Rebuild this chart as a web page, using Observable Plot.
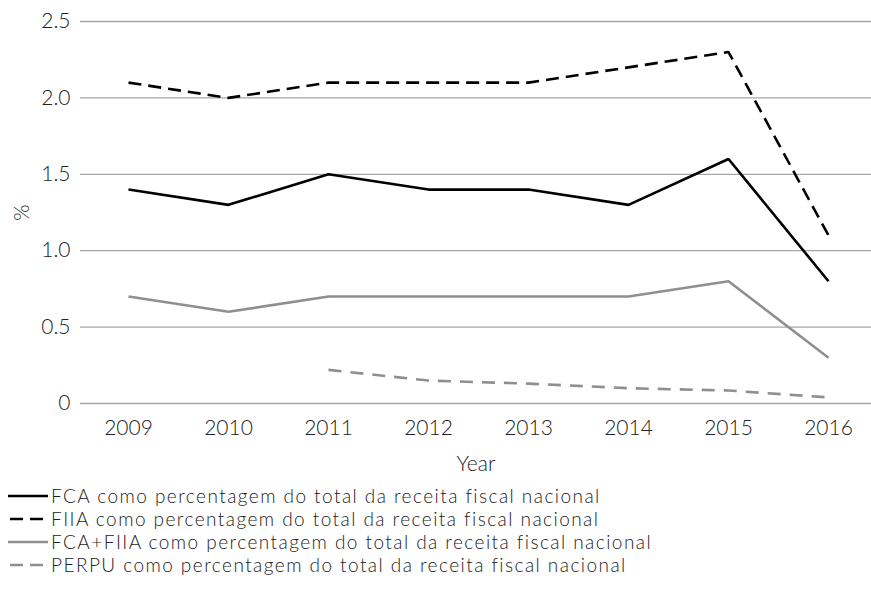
<!DOCTYPE html>
<html>
<head>
<meta charset="utf-8">
<script src="https://cdn.jsdelivr.net/npm/d3@7"></script>
<script src="https://cdn.jsdelivr.net/npm/@observablehq/plot@0.6"></script>
<style>
  html, body { margin: 0; padding: 0; background: #fff; }
  body { font-family: Lato, "Open Sans", sans-serif; font-weight: 300; color: #222; }
  #legend { margin-top: 4px; }
  .item { display: flex; align-items: center; height: 23px; padding-left: 8px; white-space: nowrap; overflow: visible; }
  .item svg { margin-right: 3px; flex: none; }
  .item .lab { display: block; height: 23px; line-height: 23px; font-size: 19px; letter-spacing: 1.45px; overflow: visible; }
</style>
</head>
<body>
<div id="chart"></div>
<div id="legend"></div>
<script>
const years = [2009, 2010, 2011, 2012, 2013, 2014, 2015, 2016];
const fca     = [1.4, 1.3, 1.5, 1.4, 1.4, 1.3, 1.6, 0.8];
const fiia    = [2.1, 2.0, 2.1, 2.1, 2.1, 2.2, 2.3, 1.1];
const fcaFiia = [0.7, 0.6, 0.7, 0.7, 0.7, 0.7, 0.8, 0.3];
const perpu   = [null, null, 0.22, 0.15, 0.13, 0.10, 0.085, 0.04];
const yTicks  = [0, 0.5, 1.0, 1.5, 2.0, 2.5];
const seriesNames = [
  "FCA como percentagem do total da receita fiscal nacional",
  "FIIA como percentagem do total da receita fiscal nacional",
  "FCA+FIIA como percentagem do total da receita fiscal nacional",
  "PERPU como percentagem do total da receita fiscal nacional"
];
const seriesValues = [fca, fiia, fcaFiia, perpu];
const seriesStyle = [
  {stroke: "#000000", dash: null},
  {stroke: "#000000", dash: "13,7"},
  {stroke: "#8f8f8f", dash: null},
  {stroke: "#8f8f8f", dash: "13,9"}
];

const rows = (vals) => years.map((y, i) => ({year: y, value: vals[i]})).filter(d => d.value != null);

const marks = [
  Plot.ruleY(yTicks, {stroke: "#a6a6a6", strokeWidth: 1.3}),
  Plot.axisY(yTicks, {tickSize: 0, tickPadding: 10, fontSize: 21,
    tickFormat: d => d === 0 ? "0" : d.toFixed(1), label: "%", labelAnchor: "center",
    labelOffset: 66, labelArrow: "none"}),
  Plot.axisX({tickSize: 0, tickPadding: 17, fontSize: 21, label: "Year", tickFormat: d => String(d),
    labelAnchor: "center", labelOffset: 67, labelArrow: "none"})
];
seriesValues.forEach((vals, k) => {
  marks.push(Plot.line(rows(vals), {x: "year", y: "value",
    stroke: seriesStyle[k].stroke, strokeWidth: 2.6,
    strokeDasharray: seriesStyle[k].dash || undefined, strokeLinejoin: "miter", strokeLinecap: "butt"}));
});

const chart = Plot.plot({
  width: 871,
  height: 480,
  marginTop: 21,
  marginBottom: 77,
  marginLeft: 80,
  marginRight: 0,
  style: {fontFamily: "Lato, 'Open Sans', sans-serif", fontWeight: 300, color: "#222", background: "#fff"},
  x: {type: "point", domain: years, range: [128, 828], padding: 0},
  y: {domain: [0, 2.5]},
  marks
});
document.getElementById("chart").appendChild(chart);

const legend = document.getElementById("legend");
seriesNames.forEach((name, k) => {
  const div = document.createElement("div");
  div.className = "item";
  const s = seriesStyle[k];
  div.innerHTML = `<svg width="40" height="10"><line x1="0" x2="40" y1="5" y2="5" stroke="${s.stroke}" stroke-width="2.6" ${s.dash ? `stroke-dasharray="13,7" stroke-dashoffset="-2"` : ""}/></svg><span class="lab">${name}</span>`;
  legend.appendChild(div);
});
</script>
</body>
</html>
